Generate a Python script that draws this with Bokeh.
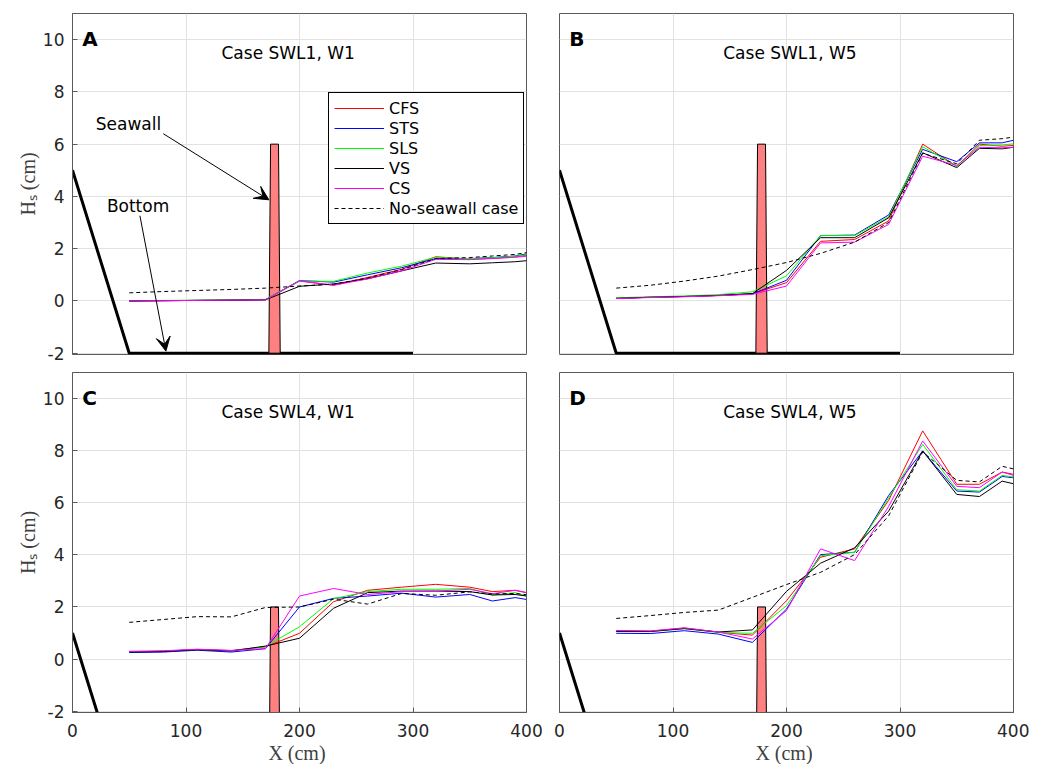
from bokeh.plotting import figure
from bokeh.layouts import gridplot
from bokeh.models import (Legend, LegendItem, Arrow, VeeHead, Label, FixedTicker,
                          Range1d)
from bokeh.embed import file_html
from bokeh.resources import INLINE

# ---------------- data ----------------
x_nodes = [50, 80, 110, 140, 170, 200, 230, 260, 290, 320, 350, 370, 390, 400]
series_names = ["CFS", "STS", "SLS", "VS", "CS", "No-seawall case"]
series_colors = ["#ff0000", "#0000ff", "#00ff00", "#000000", "#ff00ff", "#000000"]

x_ticks = [0, 100, 200, 300, 400]
y_ticks = [-2, 0, 2, 4, 6, 8, 10]

# bottom profile and seawall (relative to still-water level)
bottom_x = [0, 50, 300]
bottom_y_swl1 = [5, -2, -2]
bottom_y_swl4 = [1, -6, -6]
wall_x = [173, 174.5, 181.5, 183]
wall_top_swl1 = 6
wall_top_swl4 = 2

# Panel A: Case SWL1, W1
a_cfs = [0.00, 0.01, 0.02, 0.03, 0.05, 0.76, 0.60, 0.90, 1.21, 1.69, 1.60, 1.63, 1.69, 1.75]
a_sts = [0.00, 0.01, 0.02, 0.03, 0.05, 0.78, 0.72, 1.00, 1.27, 1.62, 1.62, 1.66, 1.72, 1.80]
a_sls = [0.01, 0.02, 0.03, 0.04, 0.06, 0.76, 0.75, 1.07, 1.33, 1.67, 1.62, 1.65, 1.71, 1.77]
a_vs = [0.00, 0.01, 0.02, 0.03, 0.04, 0.56, 0.65, 0.85, 1.15, 1.45, 1.42, 1.46, 1.50, 1.54]
a_cs = [0.00, 0.01, 0.02, 0.03, 0.04, 0.77, 0.60, 0.84, 1.15, 1.59, 1.58, 1.62, 1.67, 1.71]
a_ref = [0.31, 0.36, 0.40, 0.44, 0.49, 0.57, 0.64, 0.88, 1.20, 1.62, 1.66, 1.72, 1.78, 1.85]

# Panel B: Case SWL1, W5
b_cfs = [0.10, 0.14, 0.17, 0.21, 0.27, 0.70, 2.28, 2.35, 3.06, 6.00, 5.15, 6.00, 5.92, 5.95]
b_sts = [0.10, 0.14, 0.17, 0.21, 0.27, 0.79, 2.50, 2.52, 3.29, 5.80, 5.33, 6.05, 6.05, 6.15]
b_sls = [0.12, 0.16, 0.19, 0.24, 0.35, 0.96, 2.50, 2.50, 3.22, 5.90, 5.15, 5.95, 5.97, 6.01]
b_vs = [0.10, 0.14, 0.17, 0.21, 0.28, 1.17, 2.42, 2.42, 3.18, 5.67, 5.10, 5.84, 5.82, 5.88]
b_cs = [0.09, 0.13, 0.16, 0.20, 0.25, 0.57, 2.22, 2.25, 2.93, 5.54, 5.19, 5.88, 5.86, 5.88]
b_ref = [0.49, 0.60, 0.76, 0.95, 1.20, 1.47, 1.82, 2.25, 3.00, 5.65, 5.25, 6.15, 6.21, 6.27]

# Panel C: Case SWL4, W1
c_cfs = [0.28, 0.30, 0.37, 0.33, 0.47, 0.99, 2.20, 2.64, 2.76, 2.87, 2.76, 2.59, 2.64, 2.55]
c_sts = [0.25, 0.27, 0.34, 0.27, 0.40, 2.00, 2.33, 2.42, 2.53, 2.38, 2.48, 2.23, 2.36, 2.29]
c_sls = [0.28, 0.30, 0.37, 0.32, 0.48, 1.24, 2.32, 2.59, 2.68, 2.68, 2.71, 2.46, 2.55, 2.42]
c_vs = [0.27, 0.29, 0.36, 0.31, 0.50, 0.80, 1.95, 2.55, 2.61, 2.61, 2.59, 2.46, 2.48, 2.42]
c_cs = [0.30, 0.32, 0.38, 0.33, 0.40, 2.42, 2.71, 2.48, 2.59, 2.61, 2.68, 2.51, 2.64, 2.55]
c_ref = [1.41, 1.52, 1.63, 1.62, 1.98, 2.00, 2.30, 2.11, 2.52, 2.45, 2.58, 2.50, 2.52, 2.47]

# Panel D: Case SWL4, W5
d_cfs = [1.09, 1.07, 1.19, 1.03, 0.92, 2.24, 3.91, 4.23, 6.09, 8.76, 6.71, 6.71, 7.18, 7.09]
d_sts = [0.99, 0.98, 1.09, 0.96, 0.64, 1.92, 4.01, 4.10, 6.28, 7.99, 6.45, 6.41, 7.01, 6.96]
d_sls = [1.06, 1.05, 1.17, 1.02, 0.99, 2.05, 3.97, 4.10, 6.19, 8.24, 6.50, 6.45, 7.05, 6.99]
d_vs = [1.06, 1.06, 1.17, 1.04, 1.12, 2.60, 3.68, 4.27, 5.68, 7.99, 6.32, 6.24, 6.83, 6.73]
d_cs = [1.10, 1.08, 1.20, 1.04, 0.77, 1.86, 4.23, 3.78, 5.86, 8.37, 6.63, 6.58, 7.18, 7.05]
d_ref = [1.56, 1.67, 1.79, 1.88, 2.37, 2.86, 3.33, 4.01, 5.50, 7.95, 6.86, 6.80, 7.40, 7.30]

# ---------------- styling ----------------
FRAME = "#5a5a5a"
GRID = "#e2e2e2"
TICKTXT = "#262626"
SANS = "DejaVu Sans"
SERIF = "Liberation Serif"


def make_panel(series, bottom_y, wall_top, title, title_x, letter,
               show_x, show_y, borders, frame_h, legend=False):
    bl, br, bt, bb = borders
    p = figure(frame_width=454, frame_height=frame_h,
               x_range=Range1d(0, 400), y_range=Range1d(-2.05, 11),
               output_backend="svg", toolbar_location=None,
               min_border_left=bl, min_border_right=br,
               min_border_top=bt, min_border_bottom=bb)
    p.background_fill_color = "white"
    p.border_fill_color = "white"
    p.outline_line_color = FRAME
    p.outline_line_width = 1
    p.outline_line_alpha = 1

    p.xaxis.ticker = FixedTicker(ticks=x_ticks)
    p.yaxis.ticker = FixedTicker(ticks=y_ticks)
    p.xgrid.ticker = FixedTicker(ticks=x_ticks)
    p.ygrid.ticker = FixedTicker(ticks=y_ticks)
    p.xgrid.grid_line_color = GRID
    p.ygrid.grid_line_color = GRID
    for ax in (p.xaxis[0], p.yaxis[0]):
        ax.major_tick_in = 5
        ax.major_tick_out = 0
        ax.minor_tick_line_color = None
        ax.axis_line_color = FRAME
        ax.major_tick_line_color = FRAME
        ax.major_label_text_font = SANS
        ax.major_label_text_font_size = "17px"
        ax.major_label_text_color = TICKTXT
        ax.axis_label_text_font = SERIF
        ax.axis_label_text_font_size = "20px"
        ax.axis_label_text_font_style = "normal"
        ax.axis_label_text_color = "#404040"
    if show_x:
        p.xaxis.major_label_standoff = 11
        p.xaxis.axis_label = "X  (cm)"
        p.xaxis.axis_label_standoff = 2
    else:
        p.xaxis.visible = False
    if show_y:
        p.yaxis.major_label_standoff = 8
        p.yaxis.major_label_overrides = {-2: "-2"}
        p.yaxis.axis_label = "Hₛ (cm)"
        p.yaxis.axis_label_standoff = 1
    else:
        p.yaxis.visible = False

    # sea bottom
    p.line(bottom_x, bottom_y, line_color="black", line_width=3)
    # seawall
    base = min(bottom_y)
    p.patch(wall_x, [base, wall_top, wall_top, base], fill_color="#ff8080",
            line_color="black", line_width=1)

    renderers = []
    for vals, name, col in zip(series, series_names, series_colors):
        dash = "4 3" if name == "No-seawall case" else "solid"
        r = p.line(x_nodes, vals, line_color=col, line_width=1, line_dash=dash)
        renderers.append(r)

    p.add_layout(Label(x=title_x, y=9.47, text=title, text_align="center",
                       text_baseline="middle", text_font=SANS,
                       text_font_size="17px", text_color="black"))
    p.add_layout(Label(x=8.5, y=10.5, text=letter, text_align="left",
                       text_baseline="top", text_font=SANS,
                       text_font_style="bold", text_font_size="20px",
                       text_color="black"))

    if legend:
        items = [LegendItem(label=n, renderers=[r])
                 for n, r in zip(series_names, renderers)]
        lg = Legend(items=items, location=(256, 130), margin=0, padding=5,
                    spacing=0, glyph_width=50, glyph_height=20,
                    label_height=20, label_standoff=5,
                    label_text_font=SANS, label_text_font_size="16px",
                    label_text_color="black", border_line_color="black",
                    border_line_width=1, border_line_alpha=1,
                    background_fill_color="white", background_fill_alpha=1)
        p.add_layout(lg)
    return p


pA = make_panel([a_cfs, a_sts, a_sls, a_vs, a_cs, a_ref], bottom_y_swl1,
                wall_top_swl1, "Case SWL1, W1", 190, "A", False, True,
                (72, 17, 13, 9), 341, legend=True)
pB = make_panel([b_cfs, b_sts, b_sls, b_vs, b_cs, b_ref], bottom_y_swl1,
                wall_top_swl1, "Case SWL1, W5", 203, "B", False, False,
                (16, 16, 13, 9), 341)
pC = make_panel([c_cfs, c_sts, c_sls, c_vs, c_cs, c_ref], bottom_y_swl4,
                wall_top_swl4, "Case SWL4, W1", 190, "C", True, True,
                (72, 17, 9, 46), 340)
pD = make_panel([d_cfs, d_sts, d_sls, d_vs, d_cs, d_ref], bottom_y_swl4,
                wall_top_swl4, "Case SWL4, W5", 203, "D", True, False,
                (16, 16, 9, 46), 340)

# annotations in panel A
pA.add_layout(Label(x=20.5, y=6.79, text="Seawall", text_baseline="middle",
                    text_font=SANS, text_font_size="17px", text_color="black"))
pA.add_layout(Label(x=30.3, y=3.64, text="Bottom", text_baseline="middle",
                    text_font=SANS, text_font_size="17px", text_color="black"))
pA.add_layout(Arrow(end=VeeHead(size=14, fill_color="black", line_color="black"),
                    x_start=80, y_start=6.4, x_end=173, y_end=3.87,
                    line_color="black", line_width=1))
pA.add_layout(Arrow(end=VeeHead(size=14, fill_color="black", line_color="black"),
                    x_start=59.4, y_start=3.26, x_end=82.3, y_end=-1.92,
                    line_color="black", line_width=1))

grid = gridplot([[pA, pB], [pC, pD]], toolbar_location=None)

open("out.html", "w").write(file_html(grid, INLINE))
